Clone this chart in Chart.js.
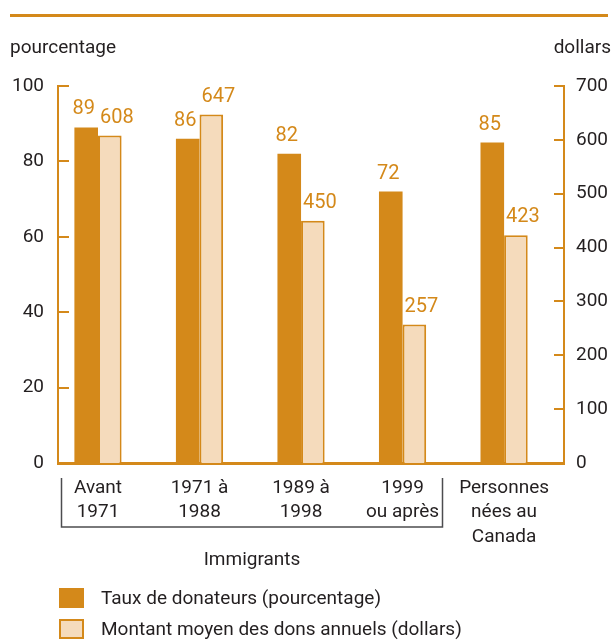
<!DOCTYPE html>
<html>
<head>
<meta charset="utf-8">
<title>Taux de donateurs et montant moyen des dons</title>
<script src="https://cdn.jsdelivr.net/npm/chart.js@4"></script>
<style>
  html, body { margin: 0; padding: 0; background: #fff; }
  #wrap { width: 613px; height: 640px; }
</style>
</head>
<body>
<div id="wrap"><canvas id="chart" width="613" height="640"></canvas></div>
<script>
// Data
const categories = [
  ['Avant', '1971'],
  ['1971 à', '1988'],
  ['1989 à', '1998'],
  ['1999', 'ou après'],
  ['Personnes', 'nées au', 'Canada']
];
const donorRate = [89, 86, 82, 72, 85];
const avgDonation = [608, 647, 450, 257, 423];
const pctTicks = [0, 20, 40, 60, 80, 100];
const dollarTicks = [0, 100, 200, 300, 400, 500, 600, 700];
const seriesLabels = [
  'Taux de donateurs (pourcentage)',
  'Montant moyen des dons annuels (dollars)'
];
const leftTitle = 'pourcentage';
const rightTitle = 'dollars';
const groupLabel = 'Immigrants';
const immigrantCount = 4;

const ORANGE = '#d4891a';
const LIGHT = '#f5dbbc';
const TEXT = '#231f20';
const FONT = "Roboto, 'DejaVu Sans Condensed', sans-serif";

// Draws everything around the plot: rule, titles, inward ticks, value labels, bracket, legend
const decorations = {
  id: 'decorations',
  afterDraw(chart) {
    const ctx = chart.ctx;
    const x = chart.scales.x;
    const yL = chart.scales.yL;
    const yR = chart.scales.yR;
    const area = chart.chartArea;
    ctx.save();

    // top rule
    ctx.fillStyle = ORANGE;
    ctx.fillRect(10, 14, 598, 3);

    // axis titles
    ctx.fillStyle = TEXT;
    ctx.font = '19px ' + FONT;
    ctx.textBaseline = 'middle';
    ctx.textAlign = 'left';
    ctx.fillText(leftTitle, 10, 48);
    ctx.textAlign = 'right';
    ctx.fillText(rightTitle, 611, 48);

    // inward tick marks
    ctx.strokeStyle = ORANGE;
    ctx.lineWidth = 2;
    ctx.beginPath();
    yL.ticks.forEach(t => {
      const py = Math.round(yL.getPixelForValue(t.value));
      ctx.moveTo(area.left, py);
      ctx.lineTo(area.left + 11, py);
    });
    yR.ticks.forEach(t => {
      const py = Math.round(yR.getPixelForValue(t.value));
      ctx.moveTo(area.right, py);
      ctx.lineTo(area.right - 10, py);
    });
    ctx.stroke();

    // value labels above the bars
    ctx.fillStyle = ORANGE;
    ctx.font = '20px ' + FONT;
    ctx.textBaseline = 'alphabetic';
    chart.data.datasets.forEach((ds, di) => {
      chart.getDatasetMeta(di).data.forEach((bar, i) => {
        const half = bar.width / 2;
        if (di === 0) {
          ctx.textAlign = 'right';
          ctx.fillText(String(donorRate[i]), bar.x + half - 3, bar.y - 13);
        } else {
          ctx.textAlign = 'left';
          ctx.fillText(String(avgDonation[i]), bar.x - half + 2, bar.y - 13);
        }
      });
    });

    // bracket under the immigrant categories
    const bx0 = Math.round(x.getPixelForValue(0) - 37) + 0.5;
    const bx1 = Math.round(x.getPixelForValue(immigrantCount - 1) + 39) + 0.5;
    ctx.strokeStyle = '#4d4d4f';
    ctx.lineWidth = 1.5;
    ctx.beginPath();
    ctx.moveTo(bx0, 478);
    ctx.lineTo(bx0, 527);
    ctx.lineTo(bx1, 527);
    ctx.lineTo(bx1, 478);
    ctx.stroke();
    ctx.fillStyle = TEXT;
    ctx.font = '19px ' + FONT;
    ctx.textAlign = 'center';
    ctx.textBaseline = 'middle';
    ctx.fillText(groupLabel, (bx0 + bx1) / 2, 560);

    // legend
    ctx.textAlign = 'left';
    chart.data.datasets.forEach((ds, di) => {
      const top = 588 + di * 31;
      ctx.fillStyle = ds.backgroundColor;
      ctx.fillRect(59, top, 25, 20);
      if (ds.borderWidth) {
        ctx.strokeStyle = ds.borderColor;
        ctx.lineWidth = 2;
        ctx.strokeRect(60, top + 1, 23, 18);
      }
      ctx.fillStyle = TEXT;
      ctx.fillText(ds.label, 101, top + 11);
    });

    ctx.restore();
  }
};

new Chart(document.getElementById('chart'), {
  type: 'bar',
  data: {
    datasets: [
      {
        label: seriesLabels[0],
        data: donorRate.map((v, i) => ({ x: i, y: v })),
        backgroundColor: ORANGE,
        borderColor: ORANGE,
        borderWidth: 0,
        yAxisID: 'yL'
      },
      {
        label: seriesLabels[1],
        data: avgDonation.map((v, i) => ({ x: i, y: v })),
        backgroundColor: LIGHT,
        borderColor: ORANGE,
        borderWidth: 2,
        yAxisID: 'yR'
      }
    ]
  },
  options: {
    responsive: false,
    animation: false,
    categoryPercentage: 0.465,
    barPercentage: 1,
    layout: { padding: { top: 86, left: 0, right: 0, bottom: 0 } },
    plugins: {
      legend: { display: false },
      tooltip: { enabled: false }
    },
    scales: {
      x: {
        type: 'linear',
        offset: false,
        min: -0.394,
        max: 4.59,
        afterBuildTicks: s => { s.ticks = categories.map((c, i) => ({ value: i })); },
        afterFit: s => { s.height = 177; },
        grid: { display: false, drawTicks: false },
        border: { display: true, color: ORANGE, width: 3 },
        ticks: {
          callback: v => categories[v],
          autoSkip: false,
          maxRotation: 0,
          color: TEXT,
          padding: 13,
          font: { family: FONT, size: 19, lineHeight: 1.28 }
        }
      },
      yL: {
        position: 'left',
        min: 0,
        max: 100,
        afterBuildTicks: s => { s.ticks = pctTicks.map(v => ({ value: v })); },
        afterFit: s => { s.width = 58; },
        grid: { display: false, drawTicks: false },
        border: { display: true, color: ORANGE, width: 2 },
        ticks: { color: TEXT, padding: 14, font: { family: FONT, size: 19 } }
      },
      yR: {
        position: 'right',
        min: 0,
        max: 700,
        afterBuildTicks: s => { s.ticks = dollarTicks.map(v => ({ value: v })); },
        afterFit: s => { s.width = 49; },
        grid: { display: false, drawTicks: false },
        border: { display: true, color: ORANGE, width: 2 },
        ticks: { color: TEXT, padding: 12, font: { family: FONT, size: 19 } }
      }
    }
  },
  plugins: [decorations]
});
</script>
</body>
</html>
